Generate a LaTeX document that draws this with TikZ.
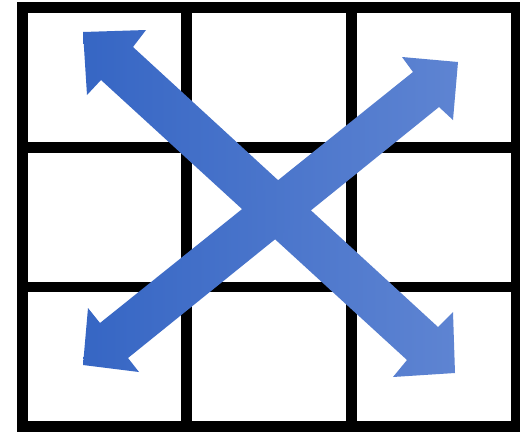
\documentclass[tikz,border=0pt]{standalone}
\begin{document}
\begin{tikzpicture}[x=1pt,y=-1pt,
  gridline/.style={line width=10.5pt,draw=black},
  bigarrow/.style={left color=arrowL,right color=arrowR,shading angle=90}]
\definecolor{arrowL}{RGB}{54,102,196}
\definecolor{arrowR}{RGB}{94,132,210}
\useasboundingbox (0,0) rectangle (520,432);
\fill[white] (0,0) rectangle (520,432);
% grid
\draw[gridline] (22.5,7.5) rectangle (516,426.5);
\draw[gridline] (186.5,7.5) -- (186.5,426.5);
\draw[gridline] (351.5,7.5) -- (351.5,426.5);
\draw[gridline] (22.5,147.5) -- (516,147.5);
\draw[gridline] (22.5,287) -- (516,287);
% arrow NW-SE
\shade[left color=arrowL,right color=arrowR]
  (83,32) -- (146,30) -- (133,47) -- (438,327) -- (453,312) -- (455,373)
  -- (393,377) -- (407,360) -- (101,80) -- (87,95) -- cycle;
% arrow SW-NE
\shade[left color=arrowL,right color=arrowR]
  (83,365) -- (88,308) -- (100,323) -- (413,72) -- (402,57) -- (458,62)
  -- (453,120) -- (439,107) -- (128,358) -- (139,372) -- cycle;
\end{tikzpicture}
\end{document}
